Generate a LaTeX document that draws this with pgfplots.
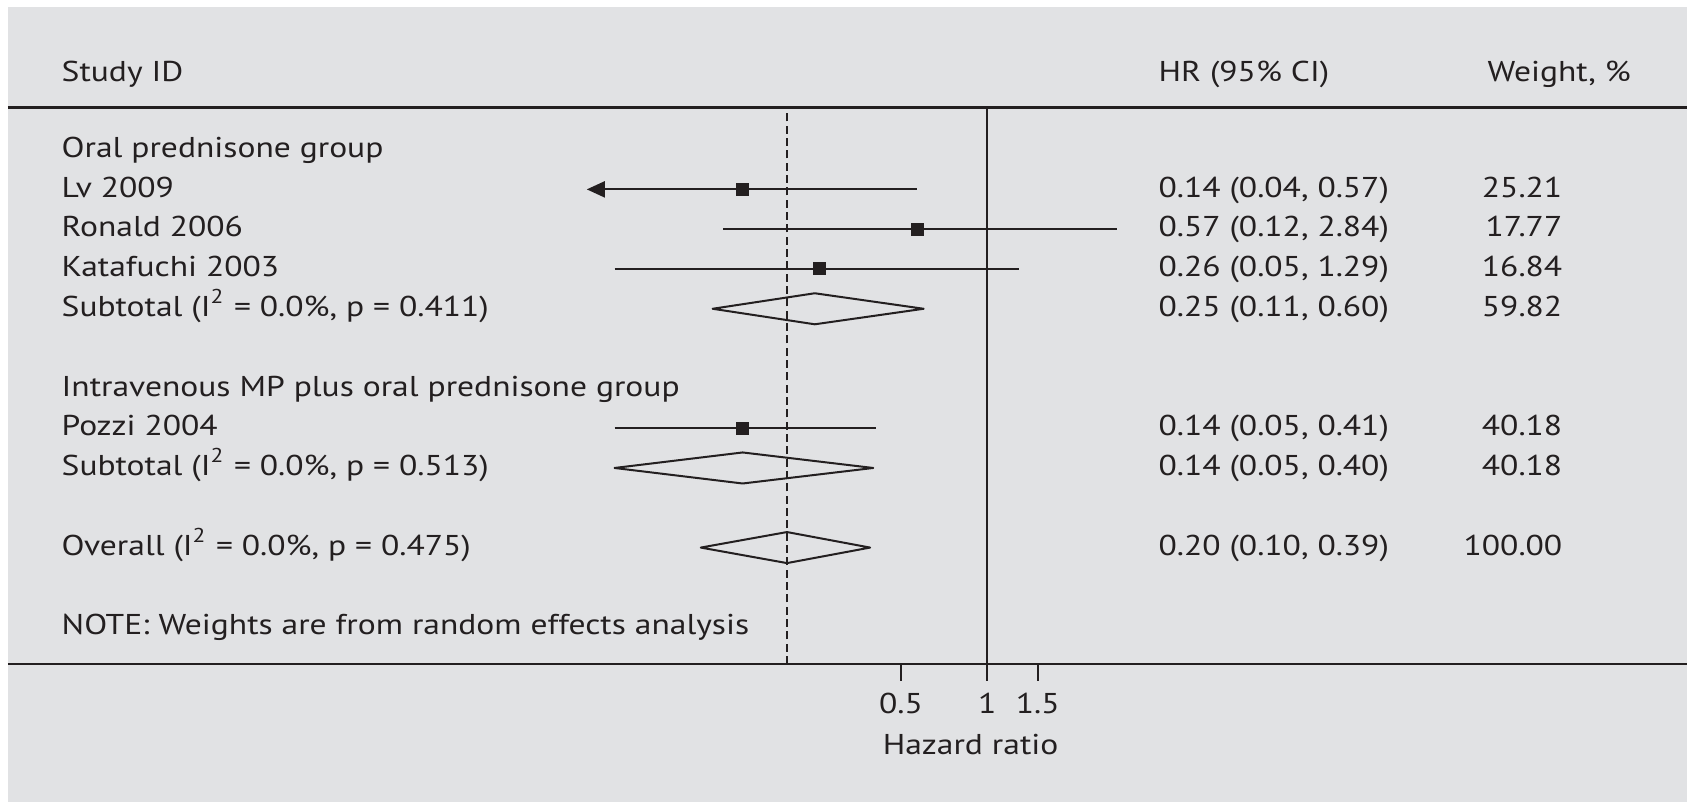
\documentclass[border=0pt]{standalone}
\usepackage{pgfplots}
\pgfplotsset{compat=1.18}
\usepackage{fontspec}
\setmainfont{PT Sans}[FakeStretch=1.17]
\usetikzlibrary{calc,backgrounds,arrows.meta}

\definecolor{panel}{RGB}{225,226,228}
\definecolor{ink}{RGB}{35,31,32}

% column positions (fraction of the axis width)
\def\colStudy{0.0316}
\def\colHR{0.6849}
\def\colWhead{0.8809}
\def\colW{0.9261}
\def\base{0.193}

\newcommand{\txtL}[3]{\node[anchor=base west, inner sep=0pt] at ({rel axis cs:#1,0}|-{axis cs:1,#2}) {#3};}
\newcommand{\txtR}[3]{\node[anchor=base east, inner sep=0pt] at ({rel axis cs:#1,0}|-{axis cs:1,#2}) {#3};}

\begin{document}
\begin{tikzpicture}[font=\fontsize{8.6}{10}\selectfont, text=ink]
\begin{axis}[
  name=fp,
  scale only axis,
  width=503.7pt, height=166.9pt,
  xmode=log,
  xmin=3.815e-4, xmax=277.3,
  ymin=0.075, ymax=14.053,
  axis x line=box, axis y line=none,
  axis line style={ink, line width=0.75pt},
  xtick={0.5,1,1.5},
  xticklabels={\textnormal{0.5},\textnormal{1},\textnormal{1.5}},
  xtick pos=bottom, tick align=outside,
  major tick length=5pt,
  every tick/.style={ink, line width=0.6pt},
  ytick=\empty,
  xticklabel style={font=\fontsize{8.6}{10}\selectfont, text=ink, anchor=base, yshift=-9.9pt},
  xlabel={Hazard ratio},
  x label style={at={(axis description cs:0.5733,0)}, anchor=base, inner sep=0pt, yshift=-27.3pt, font=\fontsize{8.6}{10}\selectfont, text=ink},
  clip=false,
  ci/.style={ink, line width=0.6pt, no marks},
  diam/.style={ink, line width=0.6pt, no marks, line join=round},
]
% line of no effect and pooled estimate
\addplot[ink, line width=0.6pt, no marks] coordinates {(1,0.075) (1,14.053)};
\addplot[ink, line width=0.5pt, no marks, dash pattern=on 2.4pt off 1.3pt] coordinates {(0.20,0.075) (0.20,14.053)};

% confidence intervals
\addplot[ci, {Triangle[length=5.4pt,width=4.8pt]}-] coordinates {(0.04,12) (0.57,12)};
\addplot[ci] coordinates {(0.12,11) (2.84,11)};
\addplot[ci] coordinates {(0.05,10) (1.29,10)};
\addplot[ci] coordinates {(0.05,6) (0.41,6)};

% study estimates
\addplot[only marks, mark=square*, mark size=1.8pt, mark options={fill=ink, draw=ink, line width=0pt}]
  coordinates {(0.14,12) (0.57,11) (0.26,10) (0.14,6)};

% pooled estimates
\addplot[diam] coordinates {(0.11,9) (0.25,9.39) (0.60,9) (0.25,8.61)} -- cycle;
\addplot[diam] coordinates {(0.05,5) (0.14,5.39) (0.40,5) (0.14,4.61)} -- cycle;
\addplot[diam] coordinates {(0.10,3) (0.20,3.39) (0.39,3) (0.20,2.61)} -- cycle;

% header
\txtL{\colStudy}{14.706}{Study ID}
\txtL{\colHR}{14.706}{HR (95\% CI)}
\txtL{\colWhead}{14.706}{Weight, \%}

% rows
\txtL{\colStudy}{13-\base}{Oral prednisone group}
\txtL{\colStudy}{12-\base}{Lv 2009}
\txtL{\colHR}{12-\base}{0.14 (0.04, 0.57)}
\txtR{\colW}{12-\base}{25.21}
\txtL{\colStudy}{11-\base}{Ronald 2006}
\txtL{\colHR}{11-\base}{0.57 (0.12, 2.84)}
\txtR{\colW}{11-\base}{17.77}
\txtL{\colStudy}{10-\base}{Katafuchi 2003}
\txtL{\colHR}{10-\base}{0.26 (0.05, 1.29)}
\txtR{\colW}{10-\base}{16.84}
\txtL{\colStudy}{9-\base}{Subtotal (I\textsuperscript{2} = 0.0\%, p = 0.411)}
\txtL{\colHR}{9-\base}{0.25 (0.11, 0.60)}
\txtR{\colW}{9-\base}{59.82}
\txtL{\colStudy}{7-\base}{Intravenous MP plus oral prednisone group}
\txtL{\colStudy}{6-\base}{Pozzi 2004}
\txtL{\colHR}{6-\base}{0.14 (0.05, 0.41)}
\txtR{\colW}{6-\base}{40.18}
\txtL{\colStudy}{5-\base}{Subtotal (I\textsuperscript{2} = 0.0\%, p = 0.513)}
\txtL{\colHR}{5-\base}{0.14 (0.05, 0.40)}
\txtR{\colW}{5-\base}{40.18}
\txtL{\colStudy}{3-\base}{Overall (I\textsuperscript{2} = 0.0\%, p = 0.475)}
\txtL{\colHR}{3-\base}{0.20 (0.10, 0.39)}
\txtR{\colW}{3-\base}{100.00}
\txtL{\colStudy}{1-\base}{NOTE: Weights are from random effects analysis}
\end{axis}

\begin{scope}[on background layer]
  \fill[panel] ($(fp.south west)+(0,-41.4pt)$) rectangle ($(fp.south west)+(503.7pt,197.2pt)$);
\end{scope}
\pgfresetboundingbox
\path[use as bounding box] ($(fp.south west)+(-2.4pt,-41.4pt)$) rectangle ($(fp.south west)+(503.7pt,199.2pt)$);
\end{tikzpicture}
\end{document}
